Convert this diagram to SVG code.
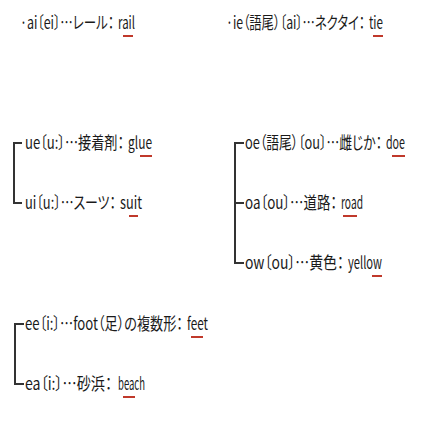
<svg xmlns="http://www.w3.org/2000/svg" width="421" height="421" viewBox="0 0 421 421">
<style>
text{font-family:"Noto Sans CJK JP","Noto Sans",sans-serif;font-size:17px;font-weight:400;fill:#1a1a1a;font-feature-settings:"palt"}
.ul{stroke:#c0392b;stroke-width:2}
.br{stroke:#333;stroke-width:2;fill:none}
</style>
<rect width="421" height="421" fill="#fff"/>
<g id="connectors">
<path class="br" d="M22,143 H14 V203 H22"/>
<path class="br" d="M244,143 H235 V263 H244 M235,203 H244"/>
<path class="br" d="M24,324 H15 V384 H24"/>
</g>
<g id="rail">
<text transform="translate(20,29) scale(0.7,1)" textLength="134.3" lengthAdjust="spacingAndGlyphs">·ai〔ei〕…レール：</text>
<text transform="translate(118,29) scale(0.7,1)" textLength="24.3" lengthAdjust="spacingAndGlyphs">rail</text>
<line class="ul" x1="123" y1="36" x2="133" y2="36"/>
</g>
<g id="tie">
<text transform="translate(226,29) scale(0.7,1)" textLength="198.6" lengthAdjust="spacingAndGlyphs">·ie（語尾）〔ai〕…ネクタイ：</text>
<text transform="translate(369,29) scale(0.7,1)" textLength="20" lengthAdjust="spacingAndGlyphs">tie</text>
<line class="ul" x1="373" y1="36" x2="383" y2="36"/>
</g>
<g id="glue">
<text transform="translate(25,149) scale(0.7,1)" textLength="141.4" lengthAdjust="spacingAndGlyphs">ue〔u:〕…接着剤：</text>
<text transform="translate(128,149) scale(0.7,1)" textLength="34.3" lengthAdjust="spacingAndGlyphs">glue</text>
<line class="ul" x1="140" y1="156" x2="152" y2="156"/>
</g>
<g id="suit">
<text transform="translate(25,209) scale(0.7,1)" textLength="130" lengthAdjust="spacingAndGlyphs">ui〔u:〕…スーツ：</text>
<text transform="translate(120,209) scale(0.7,1)" textLength="31.4" lengthAdjust="spacingAndGlyphs">suit</text>
<line class="ul" x1="129" y1="216" x2="138" y2="216"/>
</g>
<g id="doe">
<text transform="translate(245,149) scale(0.7,1)" textLength="195.7" lengthAdjust="spacingAndGlyphs">oe（語尾）〔ou〕…雌じか：</text>
<text transform="translate(386,149) scale(0.7,1)" textLength="27.1" lengthAdjust="spacingAndGlyphs">doe</text>
<line class="ul" x1="392" y1="156" x2="405" y2="156"/>
</g>
<g id="road">
<text transform="translate(245,209) scale(0.7,1)" textLength="131.4" lengthAdjust="spacingAndGlyphs">oa〔ou〕…道路：</text>
<text transform="translate(341,209) scale(0.7,1)" textLength="31.4" lengthAdjust="spacingAndGlyphs">road</text>
<line class="ul" x1="343" y1="216" x2="357" y2="216"/>
</g>
<g id="yellow">
<text transform="translate(245,269) scale(0.7,1)" textLength="141.4" lengthAdjust="spacingAndGlyphs">ow〔ou〕…黄色：</text>
<text transform="translate(348,269) scale(0.7,1)" textLength="48.6" lengthAdjust="spacingAndGlyphs">yellow</text>
<line class="ul" x1="372" y1="276" x2="382" y2="276"/>
</g>
<g id="feet">
<text transform="translate(25,330) scale(0.7,1)" textLength="225.7" lengthAdjust="spacingAndGlyphs">ee〔i:〕…foot（足）の複数形：</text>
<text transform="translate(187,330) scale(0.7,1)" textLength="30" lengthAdjust="spacingAndGlyphs">feet</text>
<line class="ul" x1="191" y1="337" x2="203" y2="337"/>
</g>
<g id="beach">
<text transform="translate(25,390) scale(0.7,1)" textLength="124.3" lengthAdjust="spacingAndGlyphs">ea〔i:〕…砂浜：</text>
<text transform="translate(118,390) scale(0.7,1)" textLength="38.6" lengthAdjust="spacingAndGlyphs">beach</text>
<line class="ul" x1="123" y1="397" x2="135" y2="397"/>
</g>
</svg>
